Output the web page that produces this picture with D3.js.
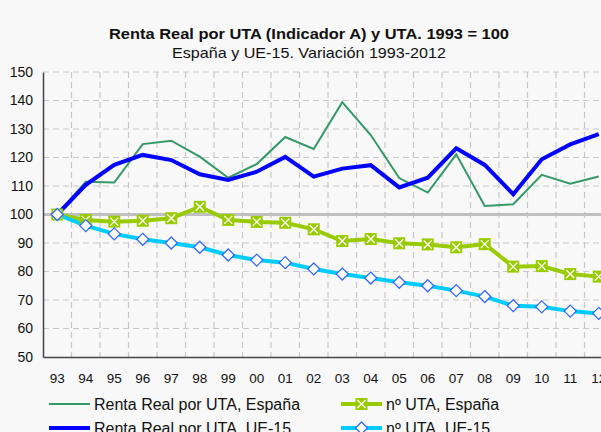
<!DOCTYPE html>
<html>
<head>
<meta charset="utf-8">
<script src="https://cdn.jsdelivr.net/npm/d3@7"></script>
<style>
  body { margin: 0; background: #f8f8f8; overflow: hidden; }
  svg { display: block; font-family: "Liberation Sans", Arial, sans-serif; }
</style>
</head>
<body>
<div id="canvas"></div>
<script>
// years shown on the x axis
let years = ['93','94','95','96','97','98','99','00','01','02','03','04','05','06','07','08','09','10','11','12'];

// series values, 1993 = 100
let rentaEspana = [100, 111.5, 111.2, 124.7, 125.9, 120.3, 112.9, 117.7, 127.2, 123.0, 139.4, 127.9, 112.8, 107.7, 121.1, 103.0, 103.6, 113.9, 110.8, 113.3];
let rentaUE15 = [100, 110.4, 117.4, 120.9, 119.1, 114.1, 112.1, 115.0, 120.2, 113.3, 116.1, 117.3, 109.5, 112.9, 123.2, 117.4, 107.1, 119.4, 124.6, 128.2];
let utaEspana = [100, 98.1, 97.5, 97.8, 98.7, 102.7, 98.1, 97.4, 97.1, 94.8, 90.7, 91.4, 89.9, 89.5, 88.5, 89.6, 81.7, 81.9, 79.1, 78.2];
let utaUE15 = [100, 96.1, 93.2, 91.3, 90.0, 88.5, 85.8, 84.0, 83.1, 80.9, 79.1, 77.7, 76.2, 75.0, 73.3, 71.2, 68.0, 67.6, 66.1, 65.3];

let yTicks = [50, 60, 70, 80, 90, 100, 110, 120, 130, 140, 150];

let width = 601, height = 432;
let plotLeft = 43, plotRight = 613, plotTop = 72, plotBottom = 357;

let svg = d3.select('#canvas').append('svg')
    .attr('width', width)
    .attr('height', height);

let x = d3.scaleBand().domain(years).range([plotLeft, plotRight]);
let y = d3.scaleLinear().domain([50, 150]).range([plotBottom, plotTop]);
let cx = d => x(d) + x.bandwidth() / 2;

// title (the original text is a bit stretched horizontally)
svg.append('text')
    .attr('x', 309).attr('y', 39)
    .attr('text-anchor', 'middle')
    .attr('font-size', 15).attr('font-weight', 'bold')
    .attr('fill', '#111')
    .attr('textLength', 400).attr('lengthAdjust', 'spacingAndGlyphs')
    .text('Renta Real por UTA (Indicador A) y UTA. 1993 = 100');
svg.append('text')
    .attr('x', 309).attr('y', 58)
    .attr('text-anchor', 'middle')
    .attr('font-size', 15)
    .attr('fill', '#111')
    .attr('textLength', 274).attr('lengthAdjust', 'spacingAndGlyphs')
    .text('España y UE-15. Variación 1993-2012');

// gridlines
let grid = svg.append('g');
grid.selectAll('line.h')
    .data(yTicks.filter(t => t !== 50 && t !== 100))
    .enter().append('line')
    .attr('class', 'h')
    .attr('x1', plotLeft).attr('x2', plotRight)
    .attr('y1', d => y(d)).attr('y2', d => y(d))
    .attr('stroke', '#c8c8c8').attr('stroke-width', 1.2)
    .attr('stroke-dasharray', '6,4');
grid.selectAll('line.v')
    .data(years.slice(1))
    .enter().append('line')
    .attr('class', 'v')
    .attr('x1', d => x(d)).attr('x2', d => x(d))
    .attr('y1', plotTop).attr('y2', plotBottom)
    .attr('stroke', '#c8c8c8').attr('stroke-width', 1.2)
    .attr('stroke-dasharray', '6,4');

// reference line at 100
svg.append('line')
    .attr('x1', plotLeft).attr('x2', plotRight)
    .attr('y1', y(100)).attr('y2', y(100))
    .attr('stroke', '#c0c0c0').attr('stroke-width', 3);

// axes
let yAxis = svg.append('g')
    .attr('transform', `translate(${plotLeft},0)`)
    .call(d3.axisLeft(y).tickValues(yTicks).tickSize(0).tickPadding(10));
yAxis.select('.domain').attr('stroke', '#444').attr('stroke-width', 1.5);
yAxis.selectAll('text').attr('font-size', 14).attr('fill', '#111')
    .attr('font-family', '"Liberation Sans", Arial, sans-serif');

let xAxis = svg.append('g')
    .attr('transform', `translate(0,${plotBottom})`)
    .call(d3.axisBottom(x).tickSize(0).tickPadding(16));
xAxis.select('.domain').attr('stroke', '#444').attr('stroke-width', 1.5);
xAxis.selectAll('text').attr('font-size', 13.5).attr('fill', '#111')
    .attr('font-family', '"Liberation Sans", Arial, sans-serif');

let line = d3.line().x((d, i) => cx(years[i])).y(d => y(d));

// lines
svg.append('path').datum(rentaEspana).attr('d', line)
    .attr('fill', 'none').attr('stroke', '#339966').attr('stroke-width', 2);
svg.append('path').datum(rentaUE15).attr('d', line)
    .attr('fill', 'none').attr('stroke', '#0000ff').attr('stroke-width', 4);
svg.append('path').datum(utaEspana).attr('d', line)
    .attr('fill', 'none').attr('stroke', '#99cc00').attr('stroke-width', 4);
svg.append('path').datum(utaUE15).attr('d', line)
    .attr('fill', 'none').attr('stroke', '#00ccff').attr('stroke-width', 4);

// markers
let drawSquareX = (g, px, py) => {
    g.append('rect')
        .attr('x', px - 6).attr('y', py - 6)
        .attr('width', 12).attr('height', 12)
        .attr('fill', '#99cc00');
    g.append('path')
        .attr('d', `M${px - 4},${py - 4}L${px + 4},${py + 4}M${px - 4},${py + 4}L${px + 4},${py - 4}`)
        .attr('stroke', '#fff').attr('stroke-width', 1.3);
};
let drawDiamond = (g, px, py) => {
    g.append('path')
        .attr('d', `M${px},${py - 6}L${px + 6},${py}L${px},${py + 6}L${px - 6},${py}Z`)
        .attr('fill', '#fff').attr('stroke', '#3366ff').attr('stroke-width', 1.3);
};

let mk = svg.append('g');
utaEspana.forEach((v, i) => drawSquareX(mk, cx(years[i]), y(v)));
utaUE15.forEach((v, i) => drawDiamond(mk, cx(years[i]), y(v)));

// legend
let legend = svg.append('g').attr('font-size', 16).attr('fill', '#111');
let legendItems = [
    { label: 'Renta Real por UTA, España', color: '#339966', w: 2, col: 0, row: 0 },
    { label: 'nº UTA, España', color: '#99cc00', w: 4, col: 1, row: 0, marker: 'x' },
    { label: 'Renta Real por UTA, UE-15', color: '#0000ff', w: 4, col: 0, row: 1 },
    { label: 'nº UTA, UE-15', color: '#00ccff', w: 4, col: 1, row: 1, marker: 'd' }
];
let colX = [49, 341];
let rowY = [404, 428];
legendItems.forEach(it => {
    let lx = colX[it.col], ly = rowY[it.row];
    legend.append('line')
        .attr('x1', lx).attr('x2', lx + 41)
        .attr('y1', ly).attr('y2', ly)
        .attr('stroke', it.color).attr('stroke-width', it.w);
    if (it.marker === 'x') drawSquareX(legend, lx + 20.5, ly);
    if (it.marker === 'd') drawDiamond(legend, lx + 20.5, ly);
    legend.append('text')
        .attr('x', lx + 45).attr('y', ly + 5.5)
        .attr('fill', '#111')
        .text(it.label);
});
</script>
</body>
</html>
